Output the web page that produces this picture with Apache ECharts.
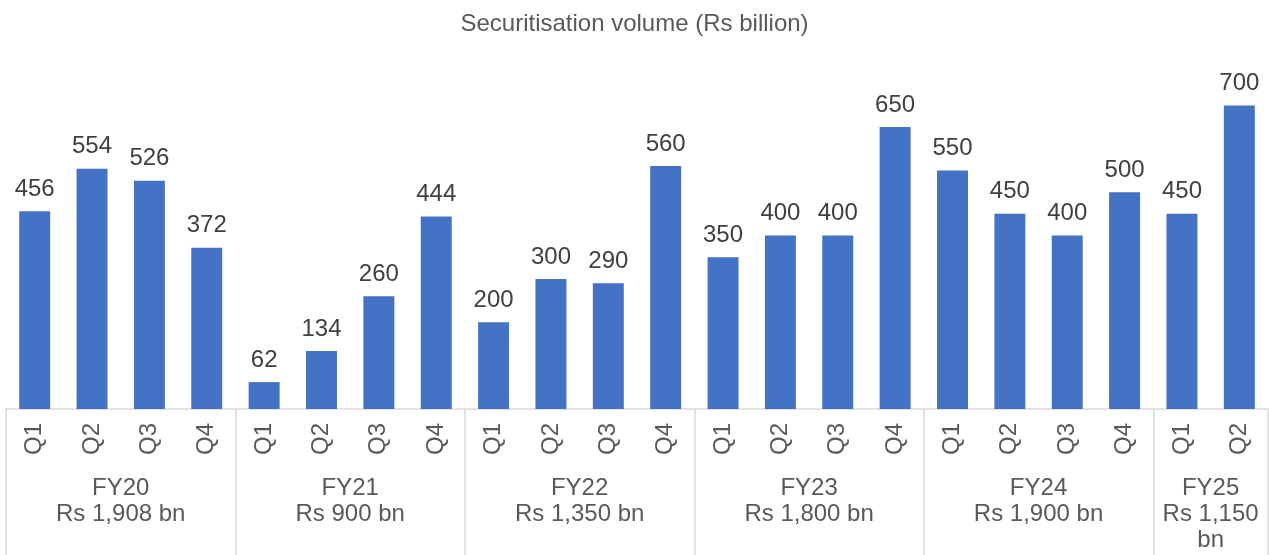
<!DOCTYPE html>
<html>
<head>
<meta charset="utf-8">
<title>Securitisation volume</title>
<script src="https://cdn.jsdelivr.net/npm/echarts@6/dist/echarts.min.js"></script>
<style>
  html, body { margin: 0; padding: 0; background: #fff; }
  #chart { width: 1269px; height: 555px; }
</style>
</head>
<body>
<div id="chart"></div>
<script>
  // 季度 + 数值
  var quarters = ['Q1', 'Q2', 'Q3', 'Q4', 'Q1', 'Q2', 'Q3', 'Q4', 'Q1', 'Q2', 'Q3', 'Q4',
    'Q1', 'Q2', 'Q3', 'Q4', 'Q1', 'Q2', 'Q3', 'Q4', 'Q1', 'Q2'];
  var volumes = [456, 554, 526, 372, 62, 134, 260, 444, 200, 300, 290, 560,
    350, 400, 400, 650, 550, 450, 400, 500, 450, 700];
  // 财年分组
  var fiscalYears = ['FY20', 'FY21', 'FY22', 'FY23', 'FY24', 'FY25'];
  var fyTotals = ['Rs 1,908 bn', 'Rs 900 bn', 'Rs 1,350 bn', 'Rs 1,800 bn', 'Rs 1,900 bn', 'Rs 1,150 bn'];
  var quartersPerYear = [4, 4, 4, 4, 4, 2];

  // group boundaries and centres on a 0..n scale
  var bounds = [0];
  var centres = [];
  quartersPerYear.forEach(function (n) {
    var start = bounds[bounds.length - 1];
    centres.push(start + n / 2);
    bounds.push(start + n);
  });

  var myChart = echarts.init(document.getElementById('chart'));
  var option = {
    animation: false,
    textStyle: { fontFamily: '"Liberation Sans", Arial, sans-serif' },
    title: {
      text: 'Securitisation volume (Rs billion)',
      left: 'center',
      top: 7,
      textStyle: { fontSize: 24, fontWeight: 'normal', color: '#595959' }
    },
    grid: { left: 6, right: 1, top: 62, bottom: 146 },
    xAxis: [
      {
        type: 'category',
        data: quarters,
        axisLine: { lineStyle: { color: '#d9d9d9', width: 1.5 } },
        axisTick: { show: false },
        axisLabel: {
          rotate: 90,
          interval: 0,
          margin: 14,
          fontSize: 24,
          color: '#595959'
        }
      },
      {
        type: 'value',
        min: 0,
        max: bounds[bounds.length - 1],
        position: 'bottom',
        axisLine: { show: false },
        splitLine: { show: false },
        axisTick: {
          show: true,
          customValues: bounds,
          length: 147,
          lineStyle: { color: '#d9d9d9', width: 1.5 }
        },
        axisLabel: {
          customValues: centres,
          margin: 66,
          fontSize: 24,
          lineHeight: 26,
          color: '#595959',
          formatter: function (val) {
            var i = centres.indexOf(val);
            if (i < 0) return '';
            var total = fyTotals[i];
            if (quartersPerYear[i] < 4) {
              total = total.replace(' bn', '\nbn');
            }
            return fiscalYears[i] + '\n' + total;
          }
        }
      }
    ],
    yAxis: {
      type: 'value',
      min: 0,
      max: 800,
      show: false,
      splitLine: { show: false }
    },
    series: [
      {
        type: 'bar',
        xAxisIndex: 0,
        data: volumes,
        barWidth: '54%',
        itemStyle: { color: '#4472c4' },
        label: {
          show: true,
          position: 'top',
          distance: 10,
          fontSize: 24,
          color: '#404040'
        }
      }
    ]
  };
  option && myChart.setOption(option);
</script>
</body>
</html>
